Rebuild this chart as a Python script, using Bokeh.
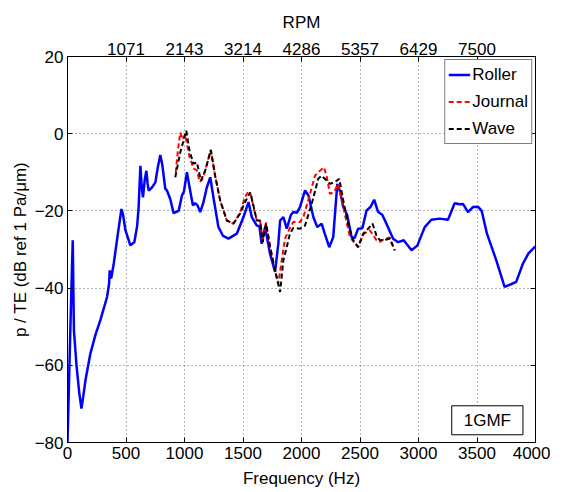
from bokeh.plotting import figure
from bokeh.models import (Range1d, LinearAxis, FixedTicker, Label, Legend, LegendItem)
from bokeh.embed import file_html
from bokeh.resources import INLINE

# ---------------- data ----------------
roller_f = [0, 10, 25, 38, 45, 50, 55, 77, 100, 119, 135, 154, 196, 240, 281, 338, 355, 361, 373, 395,
            430, 461, 475, 495, 537, 571, 595, 608, 623, 635, 645, 660, 674, 685, 694, 720, 751, 770,
            793, 810, 836, 850, 878, 907, 950, 978, 995, 1021, 1043, 1072, 1090, 1110, 1134, 1160,
            1190, 1220, 1250, 1290, 1330, 1376, 1447, 1504, 1547, 1575, 1618, 1640, 1660, 1689, 1731,
            1774, 1802, 1817, 1845, 1874, 1910, 1930, 1960, 1987, 2030, 2060, 2101, 2135, 2172, 2200,
            2237, 2271, 2306, 2330, 2357, 2390, 2428, 2455, 2484, 2520, 2556, 2590, 2621, 2655, 2690,
            2726, 2783, 2826, 2874, 2940, 2990, 3053, 3110, 3181, 3252, 3309, 3352, 3380, 3423, 3465,
            3508, 3540, 3585, 3665, 3736, 3790, 3835, 3892, 3940, 3992, 4000]
roller_db = [-80, -68, -50, -35, -27.6, -40, -51, -60, -67, -71.2, -68, -63.8, -56.9, -52, -48.3, -42.3,
             -39, -35.4, -37.5, -33.7, -26, -19.5, -21, -25, -28.9, -28.1, -24, -19, -8.3, -14, -16.5,
             -12, -9.6, -13, -14.7, -14, -12.6, -9, -5.5, -8, -14.3, -14.7, -16.9, -20.6, -20, -16, -15,
             -10, -13.9, -18.6, -18, -18.5, -20.3, -18, -14, -11.3, -17, -24.2, -26.5, -27.2, -25.9,
             -21.6, -17.7, -21.6, -23.8, -24, -28.5, -24.2, -31.1, -35.8, -28.5, -22.5, -21.6, -24.6,
             -21, -20.3, -20.5, -19, -14.7, -16, -21.6, -24.2, -23.3, -26, -29.4, -26.8, -13, -15, -19,
             -21, -26.8, -27, -24.6, -24.5, -19.9, -19, -17.1, -20.3, -21, -23.3, -27.2, -28.1, -27.6,
             -30.2, -29, -24.2, -22.3, -22, -22.3, -18, -18.3, -18.2, -20.3, -19, -18.9, -20, -25.9,
             -32.8, -39.7, -39, -38.4, -33.7, -31, -29.4, -29.2]

journal_f = [925, 945, 964, 985, 1005, 1020, 1043, 1077, 1106, 1130, 1150, 1177, 1225, 1262, 1305,
             1362, 1418, 1475, 1515, 1545, 1570, 1589, 1618, 1646, 1669, 1697, 1731, 1774, 1802,
             1830, 1859, 1900, 1930, 1987, 2016, 2073, 2115, 2158, 2192, 2215, 2243, 2280, 2314,
             2357, 2414, 2484, 2530, 2584, 2641, 2670, 2712, 2754, 2797]
journal_db = [-10, -4, 0.3, -1.5, -0.2, -2.5, -6, -9, -9.5, -12.5, -12, -9.5, -4.2, -11, -17.3,
              -22.5, -23.3, -20.5, -16.5, -15, -16, -19, -22.5, -22.5, -27.5, -23, -29, -35.5,
              -38.8, -33, -27.2, -24.5, -22.9, -22.9, -21.6, -15.6, -10.9, -9.6, -8.7, -11, -15.6,
              -15, -13, -19, -26.8, -29.4, -26, -25, -27.6, -28, -27.2, -26.9, -30.2]

wave_f = [921, 964, 990, 1015, 1043, 1077, 1106, 1140, 1177, 1225, 1262, 1305, 1362, 1418, 1475,
          1518, 1561, 1589, 1618, 1646, 1669, 1697, 1731, 1774, 1817, 1845, 1874, 1900, 1930, 1987,
          2030, 2087, 2143, 2172, 2210, 2243, 2285, 2323, 2357, 2399, 2442, 2484, 2527, 2570, 2607,
          2641, 2669, 2710, 2754, 2797]
wave_db = [-11.3, -4.8, -2, 0.8, -4.4, -7.8, -7.4, -12.1, -9.6, -4.2, -10.9, -17.3, -22.5, -23.3,
           -20.7, -17.7, -15.2, -18.6, -22.5, -22.5, -28.1, -23.3, -29.4, -35.4, -41, -32.8, -29.4,
           -26, -24.4, -24.6, -23.8, -18.2, -11.7, -10.9, -12, -13, -12.5, -11.7, -17.3, -23.3,
           -27.6, -29.4, -25.9, -24.6, -23.3, -26.4, -27.6, -27.5, -27.2, -30.2]

x_ticks = [0, 500, 1000, 1500, 2000, 2500, 3000, 3500, 4000]
y_ticks = [-80, -60, -40, -20, 0, 20]
rpm_ticks = [500, 1000, 1500, 2000, 2500, 3000, 3500]
rpm_labels = ["1071", "2143", "3214", "4286", "5357", "6429", "7500"]

FONT = "Liberation Sans"
FS = "17px"

p = figure(width=550, height=490, output_backend="svg", toolbar_location=None,
           x_range=Range1d(0, 4000), y_range=Range1d(-80, 20),
           min_border_left=67, min_border_right=15, min_border_top=56, min_border_bottom=47)
p.background_fill_color = "white"
p.border_fill_color = "white"
p.outline_line_color = "black"
p.outline_line_width = 1

r1 = p.line(roller_f, roller_db, line_color="#0000ff", line_width=2.5)
r2 = p.line(journal_f, journal_db, line_color="#ff0000", line_width=2, line_dash="5 3")
r3 = p.line(wave_f, wave_db, line_color="#000000", line_width=2, line_dash="5 3")

# axes styling
for ax in [p.xaxis[0], p.yaxis[0]]:
    ax.major_label_text_font = FONT
    ax.major_label_text_font_size = FS
    ax.major_label_text_color = "black"
    ax.axis_label_text_font = FONT
    ax.axis_label_text_font_size = FS
    ax.axis_label_text_font_style = "normal"
    ax.axis_label_text_color = "black"
    ax.major_tick_in = 5
    ax.major_tick_out = 0
    ax.minor_tick_line_color = None
    ax.axis_line_color = "black"

p.xaxis[0].ticker = FixedTicker(ticks=x_ticks)
p.yaxis[0].ticker = FixedTicker(ticks=y_ticks)
p.xaxis[0].axis_label = "Frequency (Hz)"
p.yaxis[0].axis_label = "p / TE (dB ref 1 Pa/\u03bcm)"
p.xaxis[0].major_label_standoff = 4
p.xaxis[0].axis_label_standoff = 7
p.yaxis[0].major_label_standoff = 4
p.yaxis[0].axis_label_standoff = 2

top = LinearAxis(ticker=FixedTicker(ticks=rpm_ticks),
                 major_label_overrides={t: l for t, l in zip(rpm_ticks, rpm_labels)},
                 axis_label="RPM")
top.major_label_text_font = FONT
top.major_label_text_font_size = FS
top.major_label_text_color = "black"
top.axis_label_text_font = FONT
top.axis_label_text_font_size = FS
top.axis_label_text_font_style = "normal"
top.axis_label_text_color = "black"
top.major_tick_in = 5
top.major_tick_out = 0
top.minor_tick_line_color = None
top.major_label_standoff = 2
top.axis_label_standoff = 8
p.add_layout(top, "above")

right = LinearAxis(ticker=FixedTicker(ticks=y_ticks), major_label_text_font_size="0px")
right.major_tick_in = 5
right.major_tick_out = 0
right.minor_tick_line_color = None
right.major_label_text_color = None
p.add_layout(right, "right")

p.xgrid.ticker = FixedTicker(ticks=rpm_ticks)
p.ygrid.ticker = FixedTicker(ticks=[-60, -40, -20, 0])
for g in [p.xgrid[0], p.ygrid[0]]:
    g.grid_line_color = "#444444"
    g.grid_line_dash = "1 3"
    g.grid_line_width = 1
    g.grid_line_alpha = 0.8

legend = Legend(items=[LegendItem(label="Roller", renderers=[r1]),
                       LegendItem(label="Journal", renderers=[r2]),
                       LegendItem(label="Wave", renderers=[r3])],
                location="top_right")
legend.label_text_font = FONT
legend.label_text_font_size = FS
legend.label_text_color = "black"
legend.border_line_color = "black"
legend.border_line_width = 1
legend.background_fill_alpha = 1
legend.margin = 3
legend.padding = 3
legend.spacing = 4
legend.glyph_width = 22
legend.label_standoff = 2
legend.label_height = 23
legend.glyph_height = 23
p.add_layout(legend)

tag = Label(x=3284, y=-78, text="1GMF", text_font=FONT, text_font_size=FS,
            text_color="black",
            border_line_color="black", border_line_width=1, background_fill_color="white",
            padding=(12, 5))
p.add_layout(tag)

open("out.html", "w").write(file_html(p, INLINE))
